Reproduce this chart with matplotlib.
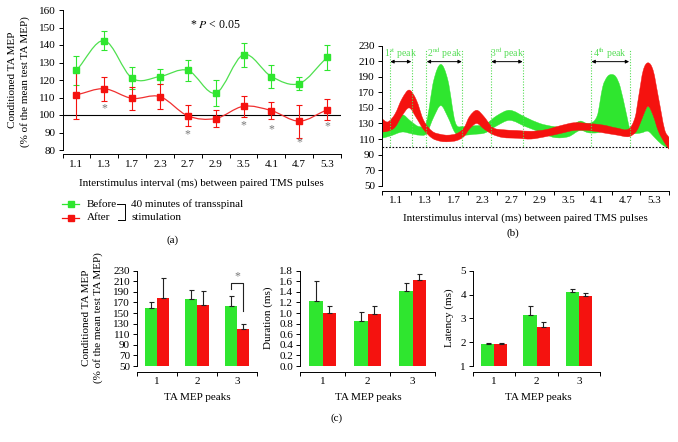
import numpy as np
import matplotlib
matplotlib.use('Agg')
import matplotlib.pyplot as plt
from matplotlib.path import Path
from matplotlib.patches import PathPatch
from matplotlib.lines import Line2D

plt.rcParams['font.family'] = ['Liberation Serif', 'DejaVu Serif']
plt.rcParams['mathtext.fontset'] = 'stix'
plt.rcParams['font.size'] = 8
plt.rcParams['axes.linewidth'] = 0.7

GREEN = '#2fe62f'
RED = '#f5120f'
LGREEN = '#4fe04f'
LRED = '#f03030'
PEAKG = '#55dd55'
FS = 8

# ---------------- Panel (a) data ----------------
isi_labels = ['1.1', '1.3', '1.7', '2.3', '2.7', '2.9', '3.5', '4.1', '4.7', '5.3']
before_mean = [125.5, 142.5, 121, 122, 125.5, 112.5, 134.5, 122, 118, 133]
before_err = [8.5, 5.5, 6.2, 4.5, 6.2, 7.6, 6.8, 6.6, 3.8, 7.0]
after_mean = [111.5, 115, 109.5, 110.5, 99.5, 98, 105, 102.5, 96.5, 103]
after_err = [13.5, 7, 6.5, 7.2, 6, 5, 6, 4.8, 9.5, 6]
sig_idx = [1, 4, 6, 7, 8, 9]
sig_y = [103.8, 89, 94.3, 91.8, 84.2, 93.7]

# ---------------- Panel (b) data ----------------
green_t = [0.0, 0.3, 0.7, 1.0, 1.3, 1.55, 1.8, 2.05, 2.3, 2.55, 2.8, 3.2, 3.6, 4.0, 4.45,
           5.0, 5.5, 6.0, 6.5, 6.9, 7.2, 7.5, 7.69, 7.85, 8.0, 8.15, 8.3, 8.5, 8.65,
           8.85, 9.05, 9.27, 9.5, 9.75, 10.0]
green_upper = [124, 128, 141, 133, 126, 132, 185, 206, 185, 132, 126, 127, 129, 140, 147,
               138, 130, 126, 125, 133, 130, 140, 177, 190, 193, 190, 177, 145, 122,
               124, 137, 152, 137, 117, 104]
green_lower = [111, 114, 119, 117, 115, 117, 138, 153, 138, 118, 115, 116, 118, 127, 134,
               126, 119, 112, 113, 121, 118, 118, 120, 121, 121, 121, 120, 119, 117,
               117, 118, 120, 112, 103, 98]
red_t = [0.0, 0.2, 0.45, 0.7, 0.95, 1.2, 1.45, 1.75, 2.05, 2.3, 2.6, 2.85, 3.05, 3.3, 3.55,
         3.85, 4.2, 4.7, 5.2, 5.7, 6.2, 6.7, 7.2, 7.7, 8.2, 8.6, 8.82, 8.94, 9.1, 9.27,
         9.45, 9.63, 9.85, 10.0]
red_upper = [136, 132, 142, 162, 173, 160, 134, 120, 116, 115, 117, 124, 139, 147, 139,
             125, 122, 121, 120, 122, 127, 131, 130, 128, 124, 123, 138, 164, 198, 208,
             198, 164, 122, 112]
red_lower = [119, 120, 125, 140, 150, 137, 122, 111, 107, 106.5, 108, 113, 123, 130, 123,
             116, 112, 111, 110, 113, 117, 121, 121, 118, 115, 113, 118, 125, 140, 152,
             140, 120, 105, 97]
peak_labels = ['1$^{\\mathrm{st}}$ peak', '2$^{\\mathrm{nd}}$ peak', '3$^{\\mathrm{rd}}$ peak', '4$^{\\mathrm{th}}$ peak']
peak_start = [0.27, 1.54, 3.79, 7.28]
peak_end = [1.04, 2.80, 4.92, 8.63]

# ---------------- Panel (c) data ----------------
peaks = ['1', '2', '3']
amp_before = [159, 176, 164]
amp_before_err = [11, 18, 18]
amp_after = [178, 165, 120]
amp_after_err = [38, 26, 9]
dur_before = [1.22, 0.85, 1.42]
dur_before_err = [0.38, 0.17, 0.14]
dur_after = [1.01, 0.98, 1.62]
dur_after_err = [0.12, 0.16, 0.11]
lat_before = [1.93, 3.15, 4.10]
lat_before_err = [0.03, 0.35, 0.15]
lat_after = [1.93, 2.65, 3.92]
lat_after_err = [0.03, 0.20, 0.13]

W, H = 678, 442
fig = plt.figure(figsize=(W / 100, H / 100), dpi=100)


def rect(l, r, t, b):
    return [l / W, 1 - b / H, (r - l) / W, (b - t) / H]


def ftext(x, y, s, **kw):
    kw.setdefault('ha', 'center')
    kw.setdefault('va', 'center')
    kw.setdefault('fontsize', FS)
    fig.text(x / W, 1 - y / H, s, **kw)


def smooth_path(xs, ys):
    xs = np.asarray(xs, float)
    ys = np.asarray(ys, float)
    n = len(xs)
    m = np.zeros(n)
    for i in range(n):
        i0 = max(i - 1, 0)
        i1 = min(i + 1, n - 1)
        m[i] = (ys[i1] - ys[i0]) / (xs[i1] - xs[i0])
    verts = [(xs[0], ys[0])]
    codes = [Path.MOVETO]
    for i in range(n - 1):
        h = xs[i + 1] - xs[i]
        c1 = (xs[i] + h / 3, ys[i] + m[i] * h / 3)
        c2 = (xs[i + 1] - h / 3, ys[i + 1] - m[i + 1] * h / 3)
        verts += [c1, c2, (xs[i + 1], ys[i + 1])]
        codes += [Path.CURVE4] * 3
    return verts, codes


def band_patch(t, up, lo, color):
    t = list(t)
    v1, c1 = smooth_path(t, up)
    v2, c2 = smooth_path(t[::-1], list(lo)[::-1])
    c2[0] = Path.LINETO
    verts = v1 + v2 + [v1[0]]
    codes = c1 + c2 + [Path.CLOSEPOLY]
    return PathPatch(Path(verts, codes), facecolor=color, edgecolor=color, lw=0.3)


def style_axis(ax, out_pts):
    for s in ['top', 'right']:
        ax.spines[s].set_visible(False)
    ax.spines['bottom'].set_position(('outward', out_pts))
    ax.tick_params(direction='out', length=3, width=0.7, pad=2, labelsize=FS)
    ax.tick_params(axis='x', which='minor', length=0, pad=4)
    ax.tick_params(axis='x', which='major', labelbottom=False)


# ================= Panel (a) =================
ax = fig.add_axes(rect(62.5, 341, 10, 150))
x = np.arange(len(isi_labels))
ax.set_xlim(-0.5, len(isi_labels) - 0.5)
ax.set_ylim(80, 160)
ax.set_yticks(np.arange(80, 161, 10))
ax.set_xticks(np.arange(-0.5, len(isi_labels), 1.0))
ax.set_xticks(x, minor=True)
ax.set_xticklabels(isi_labels, minor=True)
style_axis(ax, 3)
ax.axhline(100, color='black', lw=0.8, zorder=1)
for mean, err, col, lcol in [(before_mean, before_err, GREEN, LGREEN),
                             (after_mean, after_err, RED, LRED)]:
    v, c = smooth_path(x, mean)
    ax.add_patch(PathPatch(Path(v, c), fill=False, edgecolor=lcol, lw=0.9, zorder=2))
    ax.errorbar(x, mean, yerr=err, fmt='s', color=col, ms=5, capsize=2,
                elinewidth=0.8, capthick=0.8, zorder=3)
for i, yv in zip(sig_idx, sig_y):
    ax.text(i, yv, '*', ha='center', va='center', color='#777777', fontsize=8.5)
ax.text(5.0, 151.5, '* $P$ < 0.05', ha='center', va='center', fontsize=8.5)

ftext(201, 183, 'Interstimulus interval (ms) between paired TMS pulses')
ftext(13, 80, 'Conditioned TA MEP', rotation=90)
ftext(25, 82, '(% of the mean test TA MEP)', rotation=90)

# legend for (a)
for yy, col in [(204.3, GREEN), (217.7, RED)]:
    fig.add_artist(Line2D([62 / W, 79 / W], [1 - yy / H, 1 - yy / H], color=col, lw=0.9,
                          transform=fig.transFigure))
    fig.add_artist(Line2D([70.5 / W], [1 - yy / H], color=col, marker='s', ms=5,
                          transform=fig.transFigure))
ftext(87, 204.3, 'Before', ha='left')
ftext(87, 217.7, 'After', ha='left')
fig.add_artist(Line2D([117 / W, 124.5 / W, 124.5 / W, 118 / W],
                      [1 - 204.3 / H, 1 - 204.3 / H, 1 - 219.5 / H, 1 - 219.5 / H],
                      color='black', lw=0.7, transform=fig.transFigure))
ftext(131, 204.3, '40 minutes of transspinal', ha='left')
ftext(131, 217.7, 'stimulation', ha='left')
ftext(173, 240, '(a)')

# ================= Panel (b) =================
bx = fig.add_axes(rect(382, 669, 45.7, 185.7))
bx.set_xlim(0, 10)
bx.set_ylim(50, 230)
bx.set_yticks(np.arange(50, 231, 20))
bx.set_xticks(np.arange(0, 11, 1))
bx.set_xticks(np.arange(0.5, 10, 1), minor=True)
bx.set_xticklabels(isi_labels, minor=True)
style_axis(bx, 3.6)
bx.add_patch(band_patch(green_t, green_upper, green_lower, GREEN))
bx.add_patch(band_patch(red_t, red_upper, red_lower, RED))
bx.axhline(100, color='black', lw=0.8, ls=(0, (1.5, 1.5)), zorder=4)
for lab, t0, t1 in zip(peak_labels, peak_start, peak_end):
    bx.vlines([t0, t1], 101, 224, colors=PEAKG, linestyles=(0, (1, 1.5)), lw=0.8, zorder=5)
    bx.annotate('', xy=(t0 + 0.02, 209.5), xytext=(t1 - 0.02, 209.5),
                arrowprops=dict(arrowstyle='<|-|>', lw=0.7, color='black',
                                mutation_scale=5, shrinkA=0, shrinkB=0), zorder=6)
    bx.text((t0 + t1) / 2, 220.5, lab, ha='center', va='center', color=PEAKG, fontsize=7)
ftext(525, 218, 'Interstimulus interval (ms) between paired TMS pulses')
ftext(513, 233, '(b)')


# ================= Panel (c) =================
def bar_panel(rct, before, before_err, after, after_err, ylim, yticks, fmt, out_pts):
    axc = fig.add_axes(rct)
    xc = np.arange(len(peaks))
    w = 0.31
    axc.bar(xc - w / 2, before, w, color=GREEN, zorder=2)
    axc.bar(xc + w / 2, after, w, color=RED, zorder=2)
    axc.errorbar(xc - w / 2, before, yerr=[np.zeros(len(before)), before_err], fmt='none',
                 ecolor='#222222', elinewidth=0.8, capsize=1.8, capthick=0.8, zorder=3)
    axc.errorbar(xc + w / 2, after, yerr=[np.zeros(len(after)), after_err], fmt='none',
                 ecolor='#222222', elinewidth=0.8, capsize=1.8, capthick=0.8, zorder=3)
    axc.set_xlim(-0.5, len(peaks) - 0.5)
    axc.set_ylim(*ylim)
    axc.set_yticks(yticks)
    axc.set_yticklabels([fmt.format(v) for v in yticks])
    axc.set_xticks(np.arange(-0.5, len(peaks), 1.0))
    axc.set_xticks(xc, minor=True)
    axc.set_xticklabels(peaks, minor=True)
    style_axis(axc, out_pts)
    return axc


c1 = bar_panel(rect(137, 257, 270.7, 366), amp_before, amp_before_err, amp_after, amp_after_err,
               (50, 230), np.arange(50, 231, 20), '{:.0f}', 4)
c1.plot([2 - 0.155, 2 - 0.155, 2 + 0.155, 2 + 0.155], [195, 207, 207, 153],
        color='#222222', lw=0.8, zorder=4)
c1.text(2, 219, '*', ha='center', va='center', color='#777777', fontsize=8.5)
ftext(86, 318, 'Conditioned TA MEP', rotation=90)
ftext(98, 318, '(% of the mean test TA MEP)', rotation=90)
ftext(197, 398, 'TA MEP peaks')

c2 = bar_panel(rect(300, 435, 270.7, 366), dur_before, dur_before_err, dur_after, dur_after_err,
               (0, 1.8), np.round(np.arange(0, 1.81, 0.2), 1), '{:.1f}', 4)
ftext(268, 318, 'Duration (ms)', rotation=90)
ftext(368, 398, 'TA MEP peaks')

c3 = bar_panel(rect(473, 600, 270.7, 366), lat_before, lat_before_err, lat_after, lat_after_err,
               (1, 5), np.arange(1, 6, 1), '{:.0f}', 4)
ftext(449, 318, 'Latency (ms)', rotation=90)
ftext(538, 398, 'TA MEP peaks')
ftext(337, 418, '(c)')

fig.savefig('out.png', dpi=100)
